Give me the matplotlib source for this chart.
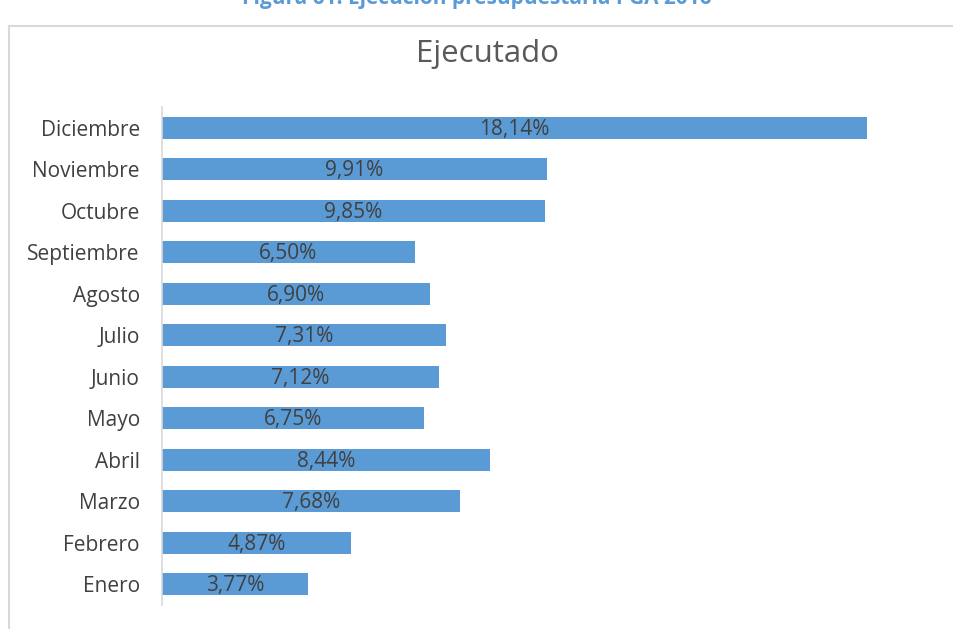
import matplotlib.pyplot as plt
from matplotlib.lines import Line2D

meses = ['Enero', 'Febrero', 'Marzo', 'Abril', 'Mayo', 'Junio', 'Julio',
         'Agosto', 'Septiembre', 'Octubre', 'Noviembre', 'Diciembre']
ejecutado = [3.77, 4.87, 7.68, 8.44, 6.75, 7.12, 7.31, 6.90, 6.50, 9.85, 9.91, 18.14]

plt.rcParams['font.family'] = ['Open Sans', 'DejaVu Sans']

fig = plt.figure(figsize=(9.54, 6.29), dpi=100)
ax = fig.add_axes([0.1698, 0.0382, 0.8145, 0.7917])

pos = range(len(meses))
ax.barh(pos, ejecutado, height=0.53, color='#5B9BD5')
for i, v in enumerate(ejecutado):
	ax.text(v / 2, i - 0.04, f'{v:.2f}%'.replace('.', ','), ha='center', va='center',
	        fontsize=15, color='#404040')

ax.set_xlim(0, 20)
ax.set_ylim(-0.5, 11.5)
ax.set_yticks(list(pos))
ax.set_yticklabels(meses, fontsize=15, color='#404040')
ax.tick_params(axis='y', length=0, pad=16)
ax.set_xticks([])
for s in ['top', 'right', 'bottom']:
	ax.spines[s].set_visible(False)
ax.spines['left'].set_color('#D9D9D9')
ax.spines['left'].set_linewidth(1.2)

fig.text(0.511, 0.914, 'Ejecutado', ha='center', va='center', fontsize=22.5, color='#595959')
# titulo de la figura, cortado arriba
fig.text(0.50, 1.003, 'Figura 61. Ejecución presupuestaria PGA 2016', ha='center', va='center',
         fontsize=15, fontweight='bold', color='#5B9BD5')

# borde del area del grafico
fig.add_artist(Line2D([9/954, 9/954], [0, 1 - 26/629], color='#D9D9D9', lw=1.5))
fig.add_artist(Line2D([9/954, 1], [1 - 26/629, 1 - 26/629], color='#D9D9D9', lw=1.5))

plt.savefig('out.png', dpi=100)
